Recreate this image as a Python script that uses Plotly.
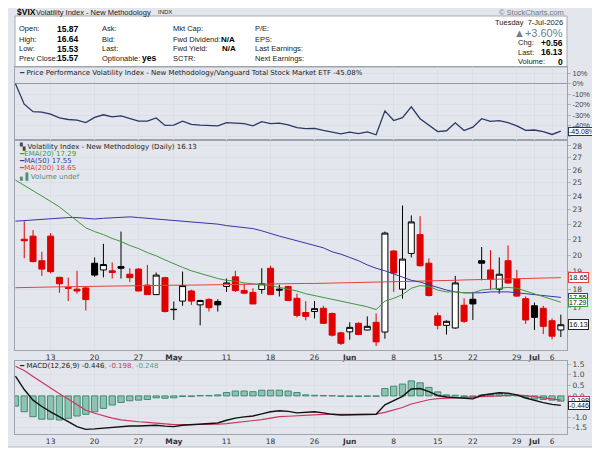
import math
import plotly.graph_objects as go

# trading days shown on the chart (first one sits on the left edge)
dates = [
    "2026-04-07", "2026-04-08", "2026-04-09", "2026-04-10", "2026-04-13", "2026-04-14",
    "2026-04-15", "2026-04-16", "2026-04-17", "2026-04-20", "2026-04-21", "2026-04-22",
    "2026-04-23", "2026-04-24", "2026-04-27", "2026-04-28", "2026-04-29", "2026-04-30",
    "2026-05-01", "2026-05-04", "2026-05-05", "2026-05-06", "2026-05-07", "2026-05-08",
    "2026-05-11", "2026-05-12", "2026-05-13", "2026-05-14", "2026-05-15", "2026-05-18",
    "2026-05-19", "2026-05-20", "2026-05-21", "2026-05-22", "2026-05-26", "2026-05-27",
    "2026-05-28", "2026-05-29", "2026-06-01", "2026-06-02", "2026-06-03", "2026-06-04",
    "2026-06-05", "2026-06-08", "2026-06-09", "2026-06-10", "2026-06-11", "2026-06-12",
    "2026-06-15", "2026-06-16", "2026-06-17", "2026-06-18", "2026-06-22", "2026-06-23",
    "2026-06-24", "2026-06-25", "2026-06-26", "2026-06-29", "2026-06-30", "2026-07-01",
    "2026-07-02", "2026-07-06", "2026-07-07",
]

# candles start on the second day
candle_dates = dates[1:]
open_ = [21.0, 21.2, 19.65, 21.2, 18.67, 18.1, 18.0, 18.07, 19.5, 19.1,
         19.05, 19.3, 18.85, 19.15, 18.23, 17.7, 18.65, 16.92, 17.35, 17.9,
         17.15, 17.44, 17.33, 18.15, 18.7, 17.93, 17.82, 17.98, 19.2, 18.0,
         18.15, 17.5, 16.75, 16.8, 16.97, 16.7, 15.73, 15.78, 16.2, 15.87,
         16.25, 15.77, 20.25, 18.0, 20.1, 21.3, 19.5, 16.58, 16.1, 15.97,
         17.13, 17.45, 19.65, 19.1, 18.0, 19.65, 18.57, 17.48, 17.1, 16.97,
         16.33, 15.87]
high = [22.2, 21.6, 20.2, 21.4, 18.7, 18.65, 19.05, 18.15, 19.85, 20.7,
        19.55, 21.5, 19.2, 19.2, 19.4, 18.95, 18.7, 17.33, 19.0, 17.97,
        17.42, 17.5, 17.45, 18.6, 19.05, 18.3, 18.05, 19.2, 19.35, 18.25,
        18.18, 17.75, 17.35, 17.35, 17.1, 16.75, 15.78, 16.25, 16.25, 16.55,
        16.7, 21.5, 20.3, 23.3, 22.6, 22.55, 19.8, 16.75, 16.35, 18.75,
        17.5, 17.85, 20.5, 20.3, 19.85, 20.6, 19.1, 17.6, 17.27, 17.1,
        16.45, 16.64]
low = [19.8, 19.55, 18.75, 18.9, 17.8, 17.35, 17.75, 16.85, 18.7, 18.67,
       18.6, 18.6, 18.4, 17.88, 17.7, 17.68, 16.75, 16.37, 17.1, 17.15,
       16.1, 16.8, 16.8, 17.85, 17.85, 17.72, 17.18, 17.75, 17.68, 17.6,
       17.35, 16.5, 16.35, 16.45, 16.17, 15.55, 15.15, 15.4, 15.62, 15.85,
       15.1, 15.45, 17.85, 17.48, 19.85, 19.3, 17.6, 15.9, 15.65, 15.93,
       16.22, 16.37, 18.5, 17.95, 17.75, 18.3, 17.58, 16.17, 15.87, 15.67,
       15.42, 15.53]
close = [20.9, 19.6, 19.15, 19.0, 18.3, 18.05, 17.9, 17.43, 18.8, 19.42,
         18.95, 19.2, 18.65, 17.9, 17.7, 18.8, 16.8, 16.9, 18.2, 17.35,
         17.38, 17.0, 17.15, 18.35, 17.92, 17.78, 17.2, 18.3, 17.7, 17.95,
         17.38, 16.6, 16.55, 16.95, 16.2, 15.62, 15.23, 16.0, 15.65, 16.05,
         15.3, 21.4, 18.92, 19.75, 22.15, 19.35, 17.65, 16.1, 16.3, 18.35,
         16.3, 17.2, 19.5, 18.55, 18.85, 18.35, 17.62, 16.37, 16.5, 16.05,
         15.57, 16.13]
start_prev_close = 22.0

ema20 = [25.2, 24.8, 24.4, 24.0, 23.6, 23.2, 22.7, 22.2, 21.75, 21.5,
         21.3, 21.05, 20.85, 20.6, 20.4, 20.15, 19.95, 19.7, 19.45, 19.25,
         19.05, 18.9, 18.75, 18.6, 18.5, 18.45, 18.35, 18.3, 18.25, 18.2,
         18.1, 18.0, 17.9, 17.75, 17.65, 17.55, 17.45, 17.35, 17.25, 17.15,
         17.05, 16.9, 17.35, 17.5, 17.7, 18.05, 18.2, 18.15, 17.95, 17.85,
         17.85, 17.8, 17.8, 17.95, 18.0, 18.05, 18.1, 18.05, 17.9, 17.75,
         17.6, 17.45, 17.29]
ma50 = [22.2, 22.25, 22.3, 22.35, 22.4, 22.4, 22.45, 22.45, 22.4, 22.35,
        22.4, 22.45, 22.5, 22.5, 22.45, 22.4, 22.35, 22.3, 22.25, 22.2,
        22.15, 22.1, 22.05, 22.0, 21.9, 21.85, 21.8, 21.7, 21.55, 21.35,
        21.2, 21.05, 20.9, 20.75, 20.6, 20.45, 20.2, 20.05, 19.85, 19.65,
        19.4, 19.2, 19.05, 18.85, 18.65, 18.5, 18.4, 18.25, 18.1, 17.95,
        17.85, 17.8, 17.8, 17.8, 17.85, 17.85, 17.85, 17.8, 17.75, 17.7,
        17.65, 17.6, 17.55]
ma200 = [18.08, 18.1, 18.12, 18.12, 18.12, 18.13, 18.14, 18.15, 18.15, 18.16,
         18.16, 18.17, 18.18, 18.18, 18.19, 18.2, 18.2, 18.21, 18.22, 18.22,
         18.23, 18.24, 18.24, 18.25, 18.26, 18.26, 18.27, 18.28, 18.28, 18.29,
         18.3, 18.3, 18.31, 18.32, 18.32, 18.33, 18.34, 18.34, 18.35, 18.36,
         18.36, 18.37, 18.38, 18.39, 18.41, 18.43, 18.45, 18.46, 18.48, 18.49,
         18.5, 18.52, 18.53, 18.54, 18.56, 18.57, 18.58, 18.6, 18.61, 18.62,
         18.63, 18.64, 18.65]

# price performance vs VTI, percent
perf = [0.0, -19.4, -26.6, -27.0, -29.0, -32.5, -34.0, -34.5, -37.0, -32.0,
        -29.5, -31.5, -30.6, -33.0, -35.5, -35.5, -32.5, -39.6, -39.3, -35.6,
        -38.7, -39.3, -40.0, -40.0, -37.0, -37.6, -38.0, -40.0, -36.0, -38.0,
        -37.5, -39.0, -41.8, -42.7, -42.4, -44.3, -46.0, -47.7, -46.0, -47.4,
        -45.8, -48.5, -25.8, -35.0, -32.3, -22.0, -33.2, -39.0, -45.5, -44.7,
        -37.2, -44.5, -41.3, -33.2, -35.7, -35.0, -37.0, -40.0, -44.3, -44.0,
        -45.5, -48.2, -45.08]

macd = [0.93, 0.3, -0.2, -0.5, -0.75, -1.0, -1.22, -1.45, -1.58, -1.56,
        -1.52, -1.47, -1.44, -1.42, -1.42, -1.41, -1.39, -1.43, -1.45, -1.39,
        -1.37, -1.35, -1.33, -1.28, -1.15, -1.05, -0.99, -0.95, -0.85, -0.75,
        -0.7, -0.73, -0.8, -0.76, -0.75, -0.8, -0.87, -0.9, -0.9, -0.9,
        -0.89, -0.87, -0.42, -0.22, -0.02, 0.33, 0.35, 0.2, 0.02, -0.05,
        -0.07, -0.12, -0.14, 0.03, 0.1, 0.15, 0.13, 0.05, -0.1, -0.22,
        -0.32, -0.4, -0.446]
signal = [1.4, 1.2, 0.92, 0.64, 0.36, 0.1, -0.15, -0.41, -0.68, -0.82,
          -0.95, -1.05, -1.13, -1.19, -1.22, -1.25, -1.3, -1.32, -1.36, -1.36,
          -1.35, -1.35, -1.35, -1.34, -1.31, -1.27, -1.23, -1.18, -1.12, -1.05,
          -0.98, -0.96, -0.93, -0.9, -0.88, -0.87, -0.87, -0.87, -0.87, -0.87,
          -0.87, -0.86, -0.78, -0.67, -0.55, -0.38, -0.27, -0.18, -0.13, -0.11,
          -0.1, -0.09, -0.07, -0.04, -0.02, 0.02, 0.04, 0.04, 0.01, -0.04,
          -0.1, -0.15, -0.198]
hist = [-0.48, -0.75, -0.98, -1.1, -1.1, -1.14, -1.06, -0.95, -0.87, -0.75,
        -0.59, -0.43, -0.31, -0.23, -0.2, -0.17, -0.09, -0.11, -0.09, -0.03,
        -0.03, 0.02, 0.02, 0.05, 0.16, 0.23, 0.23, 0.2, 0.27, 0.27,
        0.27, 0.23, 0.16, 0.05, 0.03, 0.02, 0.01, -0.02, -0.03, -0.03,
        -0.02, -0.02, 0.35, 0.46, 0.56, 0.71, 0.62, 0.4, 0.19, 0.05,
        0.03, -0.03, -0.07, 0.04, 0.07, 0.1, 0.1, 0.03, -0.08, -0.15,
        -0.17, -0.2, -0.248]

tick_dates = ["2026-04-13", "2026-04-20", "2026-04-27", "2026-05-01", "2026-05-11",
              "2026-05-18", "2026-05-26", "2026-06-01", "2026-06-08", "2026-06-15",
              "2026-06-22", "2026-06-29", "2026-07-01", "2026-07-06"]
tick_text = ["13", "20", "27", "<b>May</b>", "11", "18", "26", "<b>Jun</b>",
             "8", "15", "22", "29", "<b>Jul</b>", "6"]

# right-axis labels (the ones hidden behind value tags are left blank)
price_ticks = list(range(16, 29))
price_labels = [""] + [str(v) for v in range(17, 29)]
perf_ticks = [10, 0, -10, -20, -30, -40, -50]
perf_labels = ["10%", "0%", "-10%", "-20%", "-30%", "-40%", ""]
macd_ticks = [-1.5, -1.0, -0.5, 0.0, 0.5, 1.0, 1.5]
macd_labels = ["-1.5", "-1.0", "", "0.0", "0.5", "1.0", "1.5"]

# the page body adds an 8px margin, so the figure is drawn 8px smaller
# and all layout pixel positions below are given in page coordinates
OFF = 8
W, H = 600 - OFF, 453 - OFF
FONT = "DejaVu Sans"
NARROW = "Liberation Sans"
RED = "#e00000"
GREEN = "#3d9a3d"
BLUE = "#3535a8"
MA_RED = "#e84040"
NAVY = "#2a3865"
SIG = "#c8385e"
TEAL = "#5a9e88"


def px(x):
    return (x - OFF) / W


def py(y):
    return 1 - (y - OFF) / H


fig = go.Figure()

# candles: black when close >= previous close, red otherwise
prev = [start_prev_close] + close[:-1]
groups = {
    "#000000": [i for i in range(len(close)) if close[i] >= prev[i]],
    RED: [i for i in range(len(close)) if close[i] < prev[i]],
}
for col, idx in groups.items():
    fig.add_trace(go.Candlestick(
        x=[candle_dates[i] for i in idx],
        open=[open_[i] for i in idx],
        high=[high[i] for i in idx],
        low=[low[i] for i in idx],
        close=[close[i] for i in idx],
        increasing=dict(line=dict(color=col, width=1), fillcolor="white"),
        decreasing=dict(line=dict(color=col, width=1), fillcolor=col),
        whiskerwidth=0, hoverinfo="skip", showlegend=False,
        xaxis="x", yaxis="y",
    ))

for vals, col in [(ma200, MA_RED), (ma50, BLUE), (ema20, GREEN)]:
    fig.add_trace(go.Scatter(x=dates, y=vals, mode="lines",
                             line=dict(color=col, width=1),
                             hoverinfo="skip", showlegend=False,
                             xaxis="x", yaxis="y"))

# performance panel
fig.add_trace(go.Scatter(x=dates, y=perf, mode="lines",
                         line=dict(color=NAVY, width=1.3),
                         hoverinfo="skip", showlegend=False,
                         xaxis="x2", yaxis="y2"))

# MACD panel
fig.add_trace(go.Bar(x=dates, y=hist, width=0.72,
                     marker=dict(color="#8fc2b0", line=dict(color="#3e8c74", width=1)),
                     hoverinfo="skip", showlegend=False,
                     xaxis="x3", yaxis="y3"))
fig.add_trace(go.Scatter(x=dates, y=signal, mode="lines",
                         line=dict(color=SIG, width=1.2),
                         hoverinfo="skip", showlegend=False,
                         xaxis="x3", yaxis="y3"))
fig.add_trace(go.Scatter(x=dates, y=macd, mode="lines",
                         line=dict(color="#111111", width=1.4),
                         hoverinfo="skip", showlegend=False,
                         xaxis="x3", yaxis="y3"))

grid = "#dcdfe6"
frame_line = "#9ea3ad"
xcommon = dict(
    type="category", categoryorder="array", categoryarray=dates,
    range=[-0.05, 62.7], domain=[px(15), px(567)],
    tickvals=tick_dates, ticktext=tick_text, ticks="",
    showgrid=True, gridcolor=grid, gridwidth=1,
    showline=True, mirror=True, linecolor=frame_line, linewidth=1,
    tickfont=dict(family=FONT, size=7.5, color="#333333"),
    fixedrange=True,
)
ycommon = dict(
    side="right", showgrid=True, gridcolor=grid, gridwidth=1,
    showline=True, mirror=True, linecolor=frame_line, linewidth=1,
    ticks="outside", ticklen=3, tickcolor="#b0b4bc",
    tickfont=dict(family=FONT, size=7.5, color="#444444"),
    zeroline=False, fixedrange=True,
)

fig.update_layout(
    width=W, height=H, autosize=False,
    margin=dict(l=0, r=0, t=0, b=0),
    paper_bgcolor="white", plot_bgcolor="#f9fafc",
    showlegend=False, boxgap=0.15, boxgroupgap=0.2, bargap=0.2,
    font=dict(family=FONT, size=8, color="#222222"),
    xaxis=dict(xcommon, anchor="y", rangeslider=dict(visible=False)),
    yaxis=dict(ycommon, anchor="x", type="log",
               domain=[py(350), py(140)],
               range=[math.log10(14.92), math.log10(28.52)],
               tickvals=price_ticks, ticktext=price_labels),
    xaxis2=dict(xcommon, anchor="y2", showticklabels=False),
    yaxis2=dict(ycommon, anchor="x2",
                domain=[py(139.7), py(67)], range=[-53.2, 15.9],
                tickvals=perf_ticks, ticktext=perf_labels,
                tickfont=dict(family=NARROW, size=7.5, color="#444444"),
                zeroline=True, zerolinecolor="#9a9a9a", zerolinewidth=1),
    xaxis3=dict(xcommon, anchor="y3"),
    yaxis3=dict(ycommon, anchor="x3",
                domain=[py(434), py(361)], range=[-1.8, 1.65],
                tickvals=macd_ticks, ticktext=macd_labels),
)

shapes = [
    # outer frame
    dict(type="rect", xref="paper", yref="paper", layer="below",
         x0=px(4), x1=px(598), y0=py(447), y1=py(2),
         fillcolor="#e3e6ec", line=dict(color="#b4b9c3", width=1)),
    # quote box
    dict(type="rect", xref="paper", yref="paper", layer="below",
         x0=px(15), x1=px(567), y0=py(67), y1=py(16),
         fillcolor="white", line=dict(color="#a4a9b3", width=1)),
    # corner dot
    dict(type="circle", xref="paper", yref="paper",
         x0=px(593), x1=px(600), y0=py(448), y1=py(441),
         fillcolor="black", line=dict(width=0)),
]
fig.update_layout(shapes=shapes)

ann = []


def text(x, y, s, size=7.5, color="#222222", anchor="left", family=NARROW):
    ann.append(dict(xref="paper", yref="paper", x=px(x), y=py(y), text=s,
                    showarrow=False, xanchor=anchor, yanchor="middle",
                    font=dict(family=family, size=size, color=color)))


# header (kept just below the page margin)
text(15, 12.5, "<b>$VIX</b>", size=8.5, color="#000000")
text(34, 12.5, "Volatility Index - New Methodology", size=7.5)
text(156, 12.5, "INDX", size=6)
text(566, 12.5, "© StockCharts.com", size=7.5, color="#6f7680", anchor="right")

rows = [29, 39, 48.5, 58]
for y, lab, val in zip(rows, ["Open:", "High:", "Low:", "Prev Close:"],
                       ["15.87", "16.64", "15.53", "15.57"]):
    text(17, y, lab)
    text(55, y, "<b>%s</b>" % val, size=8.5, color="#000000")
for y, lab in zip(rows, ["Ask:", "Bid:", "Last:", "Optionable:"]):
    text(100, y, lab)
text(140, 58.5, "<b>yes</b>", size=8.5, color="#000000")
for y, lab in zip(rows, ["Mkt Cap:", "Fwd Dividend:", "Fwd Yield:", "SCTR:"]):
    text(171, y, lab)
text(237, 39, "<b>N/A</b>", size=8, color="#000000", anchor="right")
text(238, 48.5, "<b>N/A</b>", size=8, color="#000000", anchor="right")
for y, lab in zip(rows, ["P/E:", "EPS:", "Last Earnings:", "Next Earnings:"]):
    text(253, y, lab)

text(565, 23, "Tuesday  7-Jul-2026", anchor="right")
text(565, 33.5, "▲+3.60%", size=11, color="#6e7e90", anchor="right")
text(516, 43, "Chg:")
text(565, 43, "<b>+0.56</b>", size=8.5, color="#000000", anchor="right")
text(516, 52.5, "Last:")
text(565, 52.5, "<b>16.13</b>", size=8.5, color="#000000", anchor="right")
text(516, 62, "Volume:")
text(565, 62, "<b>0</b>", size=8.5, color="#000000", anchor="right")

# panel legends
text(17, 73, "<span style='color:%s'>━</span> Price Performance Volatility Index - "
     "New Methodology/Vanguard Total Stock Market ETF -45.08%%" % NAVY,
     size=7, family=FONT)
text(17, 146, "<span style='color:#444'>▚</span> Volatility Index - New Methodology (Daily) 16.13",
     size=7, family=FONT)
text(17, 153.5, "━EMA(20) 17.29", size=7, color=GREEN, family=FONT)
text(17, 161, "━MA(50) 17.55", size=7, color=BLUE, family=FONT)
text(17, 168.5, "━MA(200) 18.65", size=7, color=MA_RED, family=FONT)
text(17, 176, "▖▌Volume undef", size=7, color="#5f8a6a", family=FONT)
text(17, 366, "━ MACD(12,26,9) -0.446<span style='color:%s'>, -0.198</span>"
     "<span style='color:%s'>, -0.248</span>" % (SIG, TEAL), size=7, family=FONT)


def tag(yref, yval, s, col, size=7):
    ann.append(dict(xref="paper", yref=yref, x=px(567.5), y=yval, text=s,
                    showarrow=False, xanchor="left", yanchor="middle",
                    bgcolor="white", bordercolor=col, borderwidth=1, borderpad=0,
                    font=dict(family=NARROW, size=size, color="#111111")))


tag("y2", perf[-1], "%.2f%%" % perf[-1], NAVY)
tag("y", math.log10(ma200[-1]), "%.2f" % ma200[-1], MA_RED, size=7.5)
tag("y", math.log10(ma50[-1]), "%.2f" % ma50[-1], BLUE)
tag("y", math.log10(ema20[-1]), "%.2f" % ema20[-1], GREEN)
tag("y", math.log10(close[-1]), "%.2f" % close[-1], "#222222", size=7.5)
tag("y3", signal[-1], "%.3f" % signal[-1], SIG)
tag("y3", macd[-1], "%.3f" % macd[-1], "#222222")

fig.update_layout(annotations=ann)

fig.write_html("out.html")
